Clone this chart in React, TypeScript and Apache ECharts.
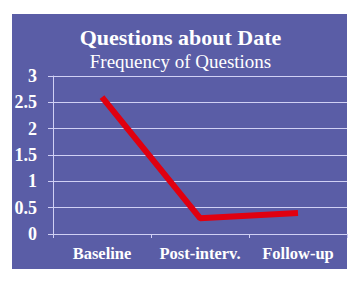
import React, { useEffect, useRef } from "react";
import * as echarts from "echarts";

const categories = ["Baseline", "Post-interv.", "Follow-up"];
const values = [2.6, 0.3, 0.4];
const yTicks = { min: 0, max: 3, interval: 0.5 };
const title = "Questions about Date";
const subtitle = "Frequency of Questions";

export default function App() {
  const ref = useRef<HTMLDivElement>(null);
  useEffect(() => {
    const chart = echarts.init(ref.current!, null, { renderer: "svg" });
    const serif = "'Liberation Serif', 'DejaVu Serif', serif";
    chart.setOption({
      animation: false,
      backgroundColor: "#ffffff",
      graphic: [
        {
          type: "rect",
          z: -10,
          shape: { x: 12, y: 14, width: 335, height: 255 },
          style: { fill: "#5a5da6" },
        },
      ],
      title: [
        {
          text: title,
          left: "center",
          top: 21,
          textStyle: { color: "#ffffff", fontFamily: serif, fontWeight: "bold", fontSize: 22 },
        },
        {
          text: subtitle,
          left: "center",
          top: 47,
          textStyle: { color: "#ffffff", fontFamily: serif, fontWeight: "normal", fontSize: 19 },
        },
      ],
      grid: { left: 53, right: 14, top: 76, bottom: 49 },
      xAxis: {
        type: "category",
        data: categories,
        boundaryGap: true,
        axisLine: { lineStyle: { color: "#d0d0f4", width: 1 } },
        axisTick: { show: true, length: 4, lineStyle: { color: "#d0d0f4" } },
        axisLabel: {
          interval: 0,
          hideOverlap: false,
          color: "#ffffff",
          fontFamily: serif,
          fontWeight: "bold",
          fontSize: 16.5,
          margin: 11,
        },
      },
      yAxis: {
        type: "value",
        min: yTicks.min,
        max: yTicks.max,
        interval: yTicks.interval,
        axisLine: { show: true, lineStyle: { color: "#d0d0f4", width: 1 } },
        axisTick: { show: true, length: 5, lineStyle: { color: "#d0d0f4" } },
        splitLine: { show: true, lineStyle: { color: "#d0d0f4", width: 1 } },
        axisLabel: {
          color: "#ffffff",
          fontFamily: serif,
          fontWeight: "bold",
          fontSize: 18,
          margin: 16,
        },
      },
      series: [
        {
          type: "line",
          data: values,
          symbol: "none",
          lineStyle: { color: "#e00010", width: 6 },
        },
      ],
    });
    return () => chart.dispose();
  }, []);
  return (
    <div
      ref={ref}
      style={{ position: "absolute", left: 0, top: 0, width: 361, height: 283 }}
    />
  );
}
